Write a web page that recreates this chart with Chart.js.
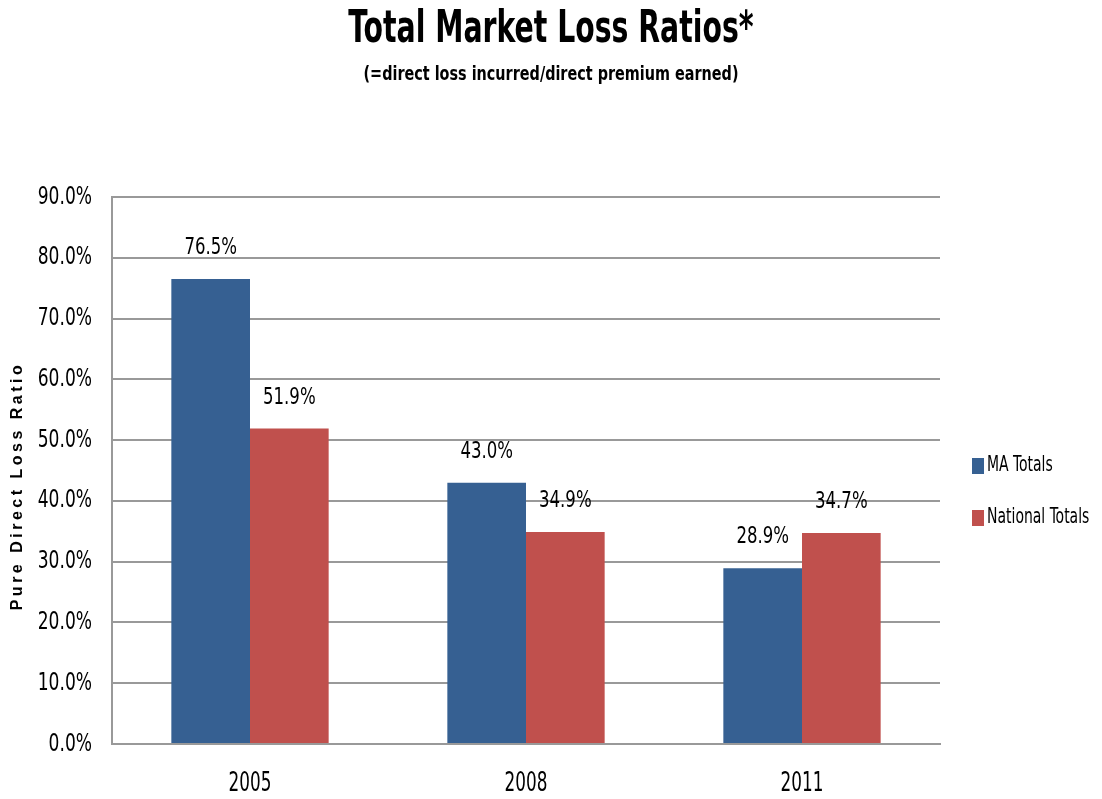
<!DOCTYPE html>
<html>
<head>
<meta charset="utf-8">
<script src="https://cdn.jsdelivr.net/npm/chart.js@4.4.1/dist/chart.umd.min.js"></script>
<style>
  html, body { margin: 0; padding: 0; background: #fff; }
  #wrap { width: 1102px; height: 799px; position: relative; }
</style>
</head>
<body>
<div id="wrap"><canvas id="lossChart" width="1102" height="799"></canvas></div>
<script>
const years = ["2005", "2008", "2011"];
const maTotals = [76.5, 43.0, 28.9];
const nationalTotals = [51.9, 34.9, 34.7];
const seriesNames = ["MA Totals", "National Totals"];
const seriesColors = ["#366092", "#c0504d"];
const chartTitle = "Total Market Loss Ratios*";
const chartSubtitle = "(=direct loss incurred/direct premium earned)";
const yTitle = "Pure Direct Loss Ratio";

const FONT = "'DejaVu Sans Condensed', 'Liberation Sans Narrow', sans-serif";

// squeezed text so DejaVu Condensed looks closer to Calibri
function narrowText(ctx, text, x, y, sx, align) {
    ctx.save();
    ctx.translate(x, y);
    ctx.scale(sx, 1);
    ctx.textAlign = align || "center";
    ctx.fillText(text, 0, 0);
    ctx.restore();
}

const extras = {
    id: "extras",
    afterDraw(chart) {
        const ctx = chart.ctx;
        const xs = chart.scales.x, ys = chart.scales.y;
        ctx.save();
        ctx.fillStyle = "#000";
        ctx.textBaseline = "middle";

        // title + subtitle
        ctx.font = "bold 45px " + FONT;
        narrowText(ctx, chartTitle, 551, 30, 0.7);
        ctx.font = "bold 20px " + FONT;
        narrowText(ctx, chartSubtitle, 551, 75, 0.8);

        // y tick labels
        ctx.font = "25px " + FONT;
        ys.ticks.forEach((t, i) => {
            narrowText(ctx, t.value.toFixed(1) + "%", 92, ys.getPixelForTick(i), 0.76, "right");
        });
        // x tick labels
        ctx.font = "26px " + FONT;
        xs.ticks.forEach((t, i) => {
            narrowText(ctx, years[i], xs.getPixelForTick(i), 784, 0.72);
        });

        // value labels above bars
        ctx.font = "23px " + FONT;
        chart.data.datasets.forEach((ds, i) => {
            chart.getDatasetMeta(i).data.forEach((bar, j) => {
                narrowText(ctx, ds.data[j].toFixed(1) + "%", bar.x, bar.y - 31, 0.8);
            });
        });

        // legend
        ctx.font = "21px " + FONT;
        const ly = [466, 518];
        seriesNames.forEach((name, i) => {
            ctx.fillStyle = seriesColors[i];
            ctx.fillRect(972, ly[i] - 8, 12, 16);
            ctx.fillStyle = "#000";
            narrowText(ctx, name, 987, ly[i], 0.74, "left");
        });

        // y axis title
        ctx.translate(18, 486);
        ctx.rotate(-Math.PI / 2);
        ctx.textAlign = "center";
        ctx.font = "bold 16px 'Liberation Sans', Arial, sans-serif";
        if ("letterSpacing" in ctx) ctx.letterSpacing = "3.5px";
        ctx.fillText(yTitle, 0, 0);
        ctx.restore();
    }
};

new Chart(document.getElementById("lossChart"), {
    type: "bar",
    data: {
        labels: years,
        datasets: [
            { label: seriesNames[0], data: maTotals, backgroundColor: seriesColors[0] },
            { label: seriesNames[1], data: nationalTotals, backgroundColor: seriesColors[1] }
        ]
    },
    options: {
        responsive: false,
        animation: false,
        layout: { padding: { left: 0, right: 162, top: 197, bottom: 0 } },
        datasets: { bar: { categoryPercentage: 0.57, barPercentage: 1.0 } },
        plugins: {
            legend: { display: false },
            tooltip: { enabled: false },
            title: { display: false }
        },
        scales: {
            x: {
                grid: { display: false },
                border: { display: true, color: "#999999", width: 2 },
                ticks: { display: false },
                afterFit(scale) { scale.height = 55; }
            },
            y: {
                min: 0,
                max: 90,
                ticks: { stepSize: 10, display: false },
                grid: { color: "#999999", lineWidth: 2, drawTicks: false },
                border: { display: true, color: "#999999", width: 2 },
                afterFit(scale) { scale.width = 112; }
            }
        }
    },
    plugins: [extras]
});
</script>
</body>
</html>
